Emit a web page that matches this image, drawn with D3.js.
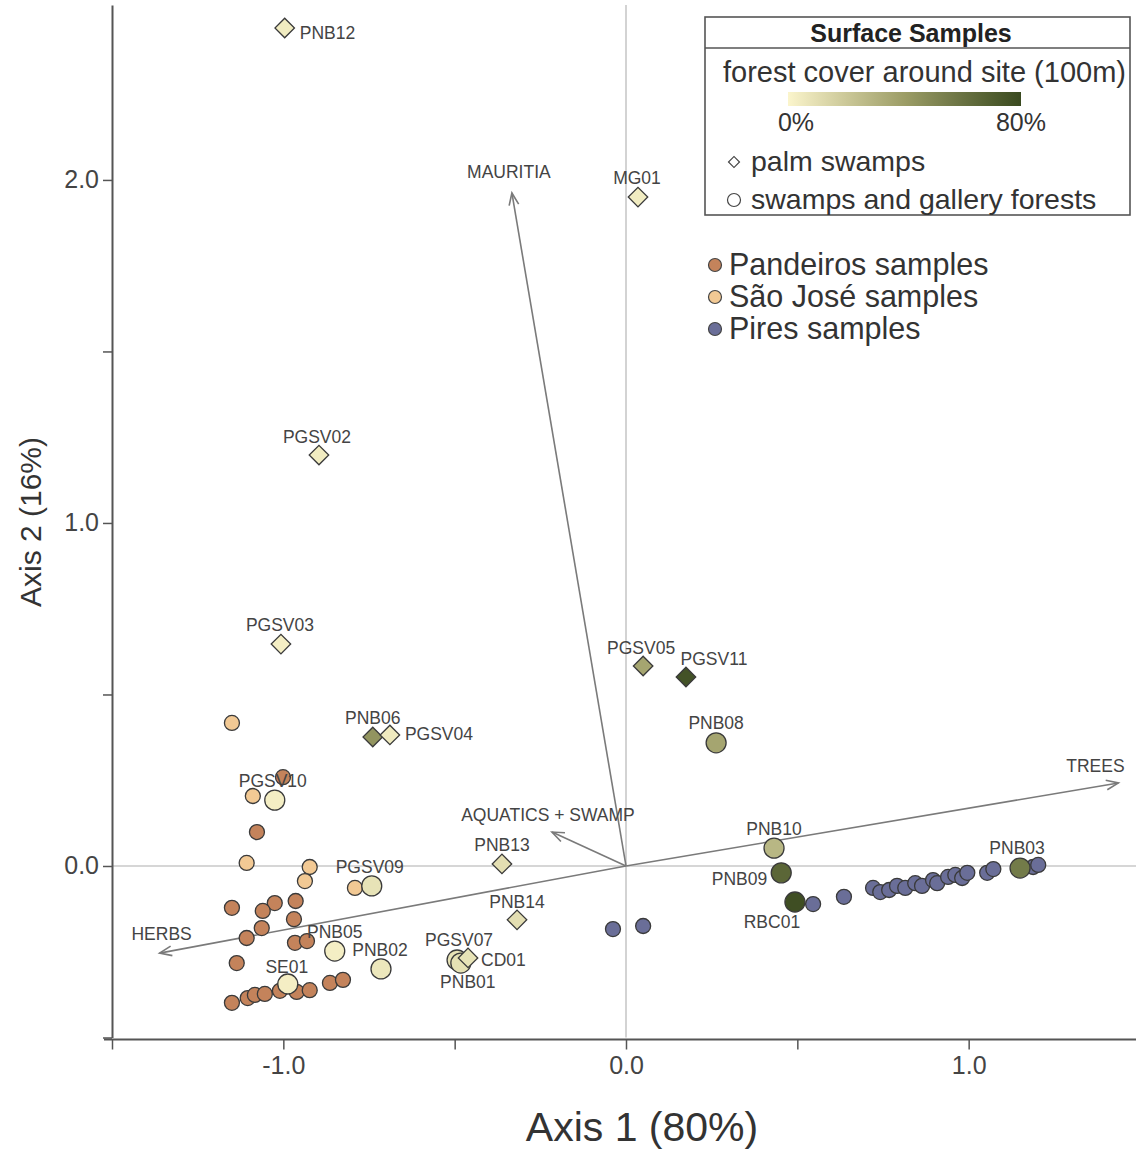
<!DOCTYPE html>
<html>
<head>
<meta charset="utf-8">
<script src="https://cdn.jsdelivr.net/npm/d3@7"></script>
<style>
  body { margin: 0; background: #fff; }
  svg { display: block; font-family: "Liberation Sans", Arial, sans-serif; }
</style>
</head>
<body>
<svg id="chart" width="1136" height="1149"></svg>
<script>
// ---- data ----

// palm swamps (diamonds): name, axis1, axis2, forest cover %
const palmSwamps = [
  ["PNB12", -0.996, 2.443, 4],
  ["MG01", 0.035, 1.950, 4],
  ["PGSV02", -0.896, 1.198, 4],
  ["PGSV03", -1.007, 0.647, 3],
  ["PGSV05", 0.050, 0.583, 36],
  ["PGSV11", 0.175, 0.551, 76],
  ["PNB06", -0.739, 0.376, 44],
  ["PGSV04", -0.689, 0.382, 5],
  ["PNB13", -0.362, 0.006, 10],
  ["PNB14", -0.318, -0.157, 10],
  ["CD01", -0.461, -0.268, 8]
];

// swamps and gallery forests (large circles)
const galleryForests = [
  ["PGSV10", -1.025, 0.192, 3],
  ["PGSV09", -0.742, -0.058, 8],
  ["PNB05", -0.850, -0.248, 3],
  ["PNB02", -0.715, -0.300, 6],
  ["PGSV07", -0.493, -0.274, 8],
  ["PNB01", -0.482, -0.283, 9],
  ["SE01", -0.987, -0.344, 3],
  ["PNB08", 0.263, 0.359, 36],
  ["PNB10", 0.432, 0.052, 28],
  ["PNB09", 0.453, -0.020, 66],
  ["RBC01", 0.493, -0.105, 78],
  ["PNB03", 1.150, -0.006, 56]
];

// fossil / reference samples (small circles)
const pandeiros = [
  [-1.001, 0.259], [-1.077, 0.099], [-1.150, -0.122], [-1.025, -0.108],
  [-1.060, -0.131], [-0.964, -0.102], [-1.063, -0.181], [-0.969, -0.155],
  [-1.107, -0.210], [-0.966, -0.224], [-0.931, -0.219], [-1.136, -0.283],
  [-0.864, -0.341], [-0.826, -0.332], [-1.150, -0.399], [-1.104, -0.385],
  [-1.083, -0.376], [-1.054, -0.373], [-1.010, -0.364], [-0.961, -0.367],
  [-0.923, -0.362]
];
const saoJose = [
  [-1.150, 0.417], [-1.089, 0.204], [-1.107, 0.009],
  [-0.923, -0.003], [-0.937, -0.044], [-0.791, -0.064]
];
const pires = [
  [-0.038, -0.184], [0.050, -0.175], [0.546, -0.111], [0.636, -0.090],
  [0.721, -0.064], [0.742, -0.076], [0.768, -0.070], [0.791, -0.058],
  [0.815, -0.064], [0.844, -0.050], [0.864, -0.058], [0.896, -0.041],
  [0.908, -0.050], [0.940, -0.032], [0.961, -0.026], [0.981, -0.035],
  [0.996, -0.020], [1.054, -0.020], [1.072, -0.009], [1.188, -0.003],
  [1.203, 0.003]
];

// biplot vectors: label, axis1, axis2
const vectors = [
  ["MAURITIA", -0.333, 1.962],
  ["TREES", 1.437, 0.242],
  ["HERBS", -1.361, -0.254],
  ["AQUATICS + SWAMP", -0.216, 0.099]
];

const xTicks = [-1.5, -1.0, -0.5, 0.0, 0.5, 1.0];
const yTicks = [-0.5, 0.0, 0.5, 1.0, 1.5, 2.0];
const labelledTicks = [-1.0, 0.0, 1.0, 2.0];
const coverStops = [0, 40, 80];

const groups = [
  { label: "Pandeiros samples", color: "#c4835b" },
  { label: "São José samples", color: "#f2c994" },
  { label: "Pires samples", color: "#6a6e98" }
];

// label placement (pixels relative to the point): dx, dy, anchor
const labelOffset = {
  PNB12: [15, 5, "start"], MG01: [-1, -19], PGSV02: [-2, -18], PGSV03: [-1, -19],
  PGSV05: [-2, -18], PGSV11: [28, -18], PNB06: [0, -19], PGSV04: [15, -1, "start"],
  PNB13: [0, -19], PNB14: [0, -18], CD01: [13, 2, "start"],
  PGSV10: [-2, -19], PGSV09: [-2, -19], PNB05: [0, -19], PNB02: [-1, -19],
  PGSV07: [2, -20], PNB01: [7, 19], SE01: [-1, -17], PNB08: [0, -20],
  PNB10: [0, -19], PNB09: [-14, 6, "end"], RBC01: [-23, 20], PNB03: [-3, -20],
  MAURITIA: [-3, -21], TREES: [-23, -17], HERBS: [2, -19], "AQUATICS + SWAMP": [-4, -17]
};

// ---- scales ----
const svg = d3.select("#chart");
const x = d3.scaleLinear().domain([-1.5, 1.5]).range([112, 1140]);
const y = d3.scaleLinear().domain([-0.5, 2.51]).range([1037.5, 5]);
const cover = d3.scaleLinear().domain(coverStops)
  .range(["#fbf5cc", "#9c9d66", "#3a4a20"]).interpolate(d3.interpolateLab);

svg.append("rect").attr("width", 1136).attr("height", 1149).attr("fill", "#fff");

// zero lines
svg.append("line")
  .attr("x1", x(0)).attr("x2", x(0)).attr("y1", y.range()[1]).attr("y2", y(-0.5))
  .attr("stroke", "#c8c8c8").attr("stroke-width", 1.6);
svg.append("line")
  .attr("x1", x(-1.5)).attr("x2", 1136).attr("y1", y(0)).attr("y2", y(0))
  .attr("stroke", "#c8c8c8").attr("stroke-width", 1.6);

// axes
const fmt = d => labelledTicks.includes(d) ? d.toFixed(1) : "";
const xAxis = svg.append("g")
  .attr("transform", `translate(0,${y(-0.5) + 2})`)
  .call(d3.axisBottom(x).tickValues(xTicks).tickFormat(fmt).tickSize(10).tickPadding(7).tickSizeOuter(0));
const yAxis = svg.append("g")
  .attr("transform", `translate(${x(-1.5)},0)`)
  .call(d3.axisLeft(y).tickValues(yTicks).tickFormat(fmt).tickSize(9).tickPadding(4).tickSizeOuter(0));

[xAxis, yAxis].forEach(a => {
  a.select(".domain").attr("stroke", "#555").attr("stroke-width", 2);
  a.selectAll(".tick line").attr("stroke", "#555").attr("stroke-width", 1.5);
  a.selectAll(".tick text").attr("fill", "#444").style("font-size", "25px")
    .style("font-family", "Liberation Sans, Arial, sans-serif");
});
xAxis.select(".domain").attr("d", `M${x(-1.5) - 8},0H1136`);

svg.append("text")
  .attr("x", 642).attr("y", 1141)
  .attr("text-anchor", "middle").attr("fill", "#333")
  .style("font-size", "41px")
  .text("Axis 1 (80%)");
svg.append("text")
  .attr("transform", `translate(41,522) rotate(-90)`)
  .attr("text-anchor", "middle").attr("fill", "#333")
  .style("font-size", "30px")
  .text("Axis 2 (16%)");

// vectors with open arrow heads
const vg = svg.append("g").attr("stroke", "#7a7a7a").attr("stroke-width", 1.6).attr("fill", "none");
vectors.forEach(([name, vx, vy]) => {
  const x0 = x(0), y0 = y(0), x1 = x(vx), y1 = y(vy);
  vg.append("line").attr("x1", x0).attr("y1", y0).attr("x2", x1).attr("y2", y1);
  const a = Math.atan2(y1 - y0, x1 - x0);
  const len = 13, spread = 0.38;
  vg.append("path").attr("d",
    `M${x1 - len * Math.cos(a - spread)},${y1 - len * Math.sin(a - spread)}` +
    `L${x1},${y1}L${x1 - len * Math.cos(a + spread)},${y1 - len * Math.sin(a + spread)}`);
});

// sample points
const dot = (arr, color) => svg.append("g").selectAll("circle")
  .data(arr).join("circle")
    .attr("cx", d => x(d[0])).attr("cy", d => y(d[1]))
    .attr("r", 7.5).attr("fill", color)
    .attr("stroke", "#3a3a3a").attr("stroke-width", 1.3);
dot(pandeiros, groups[0].color);
dot(saoJose, groups[1].color);
dot(pires, groups[2].color);

svg.append("g").selectAll("circle")
  .data(galleryForests).join("circle")
    .attr("cx", d => x(d[1])).attr("cy", d => y(d[2]))
    .attr("r", 10).attr("fill", d => cover(d[3]))
    .attr("stroke", "#3a3a3a").attr("stroke-width", 1.3);

const diamond = d3.symbol().type(d3.symbolSquare).size(190);
svg.append("g").selectAll("path")
  .data(palmSwamps).join("path")
    .attr("d", diamond)
    .attr("transform", d => `translate(${x(d[1])},${y(d[2])}) rotate(45)`)
    .attr("fill", d => cover(d[3]))
    .attr("stroke", "#3a3a3a").attr("stroke-width", 1.3);

// labels
const labels = svg.append("g").attr("fill", "#444").style("font-size", "17.5px");
[...palmSwamps, ...galleryForests, ...vectors].forEach(d => {
  const name = d[0];
  const [dx, dy, anchor] = labelOffset[name];
  labels.append("text")
    .attr("x", x(d[1]) + dx).attr("y", y(d[2]) + dy)
    .attr("text-anchor", anchor || "middle")
    .attr("dominant-baseline", "central")
    .text(name);
});

// ---- legend: surface samples box ----
const lg = svg.append("g");
lg.append("rect").attr("x", 705).attr("y", 17).attr("width", 425).attr("height", 198)
  .attr("fill", "#fff").attr("stroke", "#555").attr("stroke-width", 1.6);
lg.append("line").attr("x1", 705).attr("x2", 1130).attr("y1", 48).attr("y2", 48)
  .attr("stroke", "#555").attr("stroke-width", 1.6);
lg.append("text").attr("x", 911).attr("y", 42).attr("text-anchor", "middle")
  .attr("fill", "#222").style("font-size", "25px").style("font-weight", "bold")
  .text("Surface Samples");
lg.append("text").attr("x", 723).attr("y", 82).attr("fill", "#333")
  .style("font-size", "29px").text("forest cover around site (100m)");

const grad = svg.append("defs").append("linearGradient").attr("id", "coverGrad");
d3.range(0, 81, 10).forEach(v => grad.append("stop")
  .attr("offset", `${v / 80 * 100}%`).attr("stop-color", cover(v)));
const barX = d3.scaleLinear().domain([0, 80]).range([788, 1021]);
lg.append("rect").attr("x", barX(0)).attr("y", 92).attr("width", barX(80) - barX(0)).attr("height", 14)
  .attr("fill", "url(#coverGrad)");
lg.selectAll(".covtick").data([0, 80]).join("text")
  .attr("x", d => barX(d) + (d === 0 ? 8 : 0)).attr("y", 131)
  .attr("text-anchor", "middle").attr("fill", "#333").style("font-size", "25px")
  .text(d => `${d}%`);

lg.append("path").attr("d", d3.symbol().type(d3.symbolSquare).size(60))
  .attr("transform", "translate(734,162) rotate(45)")
  .attr("fill", "#fff").attr("stroke", "#444").attr("stroke-width", 1.2);
lg.append("text").attr("x", 751).attr("y", 171).attr("fill", "#333")
  .style("font-size", "28.5px").text("palm swamps");
lg.append("circle").attr("cx", 734).attr("cy", 200).attr("r", 6.5)
  .attr("fill", "#fff").attr("stroke", "#444").attr("stroke-width", 1.2);
lg.append("text").attr("x", 751).attr("y", 209).attr("fill", "#333")
  .style("font-size", "28.5px").text("swamps and gallery forests");

// ---- legend: sample groups ----
const gl = svg.append("g").selectAll("g").data(groups).join("g")
  .attr("transform", (d, i) => `translate(715,${265 + i * 32})`);
gl.append("circle").attr("r", 6.5).attr("fill", d => d.color)
  .attr("stroke", "#444").attr("stroke-width", 1.2);
gl.append("text").attr("x", 14).attr("y", 10).attr("fill", "#333")
  .style("font-size", "30.5px").text(d => d.label);
</script>
</body>
</html>
